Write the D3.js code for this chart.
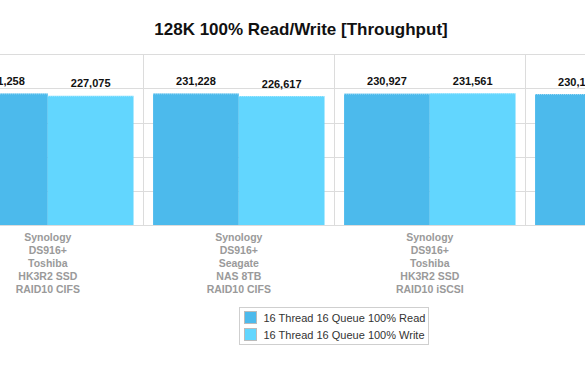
<!DOCTYPE html>
<html>
<head>
<meta charset="utf-8">
<script src="https://cdn.jsdelivr.net/npm/d3@7"></script>
<style>
  html, body { margin: 0; padding: 0; background: #fff; overflow: hidden; }
  svg { display: block; font-family: "Liberation Sans", Arial, Helvetica, sans-serif; }
</style>
</head>
<body>
<svg id="chart"></svg>
<script>
// dados do gráfico
const groups = [
  "Synology\nDS916+\nToshiba\nHK3R2 SSD\nRAID10 CIFS",
  "Synology\nDS916+\nSeagate\nNAS 8TB\nRAID10 CIFS",
  "Synology\nDS916+\nToshiba\nHK3R2 SSD\nRAID10 iSCSI",
  "Synology\nDS916+\nSeagate\nNAS 8TB\nRAID10 iSCSI"
];
const seriesNames = ["16 Thread 16 Queue 100% Read", "16 Thread 16 Queue 100% Write"];
const readValues = [231258, 231228, 230927, 230150];
const writeValues = [227075, 226617, 231561, 228400];
const yTicks = [0, 60000, 120000, 180000, 240000, 300000];
const title = "128K 100% Read/Write [Throughput]";

const width = 585, height = 378;
const colors = ["#4cbaec", "#62d6fe"];

const svg = d3.select("#chart")
  .attr("width", width)
  .attr("height", height);

// a área de plotagem continua além das bordas (gráfico recortado)
const groupStep = 191;
const plotLeft = -47.7;
const plotTop = 54.3, plotBottom = 225;

const x0 = d3.scaleBand()
  .domain(groups)
  .range([plotLeft, plotLeft + groupStep * groups.length])
  .paddingInner(0)
  .paddingOuter(0);

const x1 = d3.scaleBand()
  .domain(seriesNames)
  .range([0, x0.bandwidth()])
  .paddingInner(0)
  .paddingOuter(0.114);

const y = d3.scaleLinear()
  .domain([0, 300000])
  .range([plotBottom, plotTop]);

// título
svg.append("text")
  .attr("x", 301)
  .attr("y", 35)
  .attr("text-anchor", "middle")
  .style("font-size", "17px")
  .style("font-weight", "bold")
  .attr("fill", "#111")
  .text(title);

// linhas de grade horizontais
svg.append("g")
  .selectAll("line")
  .data(yTicks)
  .enter()
  .append("line")
  .attr("x1", 0)
  .attr("x2", width)
  .attr("y1", d => Math.round(y(d)) + 0.5)
  .attr("y2", d => Math.round(y(d)) + 0.5)
  .attr("stroke", "#dcdcdc")
  .attr("stroke-width", 1);

// separadores verticais entre grupos
svg.append("g")
  .selectAll("line")
  .data(groups.slice(1))
  .enter()
  .append("line")
  .attr("x1", d => Math.round(x0(d)) + 0.5)
  .attr("x2", d => Math.round(x0(d)) + 0.5)
  .attr("y1", y(300000))
  .attr("y2", y(0))
  .attr("stroke", "#dcdcdc")
  .attr("stroke-width", 1);

const rows = groups.map((g, i) => ({
  group: g,
  values: [
    { key: seriesNames[0], value: readValues[i] },
    { key: seriesNames[1], value: writeValues[i] }
  ]
}));

const groupSel = svg.append("g")
  .selectAll("g")
  .data(rows)
  .enter()
  .append("g")
  .attr("transform", d => `translate(${x0(d.group)},0)`);

// barras
groupSel.selectAll("rect")
  .data(d => d.values)
  .enter()
  .append("rect")
  .attr("x", d => x1(d.key))
  .attr("y", d => y(d.value))
  .attr("width", x1.bandwidth())
  .attr("height", d => y(0) - y(d.value))
  .attr("fill", (d, i) => colors[i]);

// borda superior pontilhada das barras
groupSel.selectAll("line.top")
  .data(d => d.values)
  .enter()
  .append("line")
  .attr("class", "top")
  .attr("x1", d => x1(d.key))
  .attr("x2", d => x1(d.key) + x1.bandwidth())
  .attr("y1", d => y(d.value) + 0.5)
  .attr("y2", d => y(d.value) + 0.5)
  .attr("stroke", "#ffffff")
  .attr("stroke-opacity", 0.45)
  .attr("stroke-dasharray", "1,1");

// valores acima das barras
groupSel.selectAll("text.value")
  .data(d => d.values)
  .enter()
  .append("text")
  .attr("class", "value")
  .attr("x", d => x1(d.key) + x1.bandwidth() / 2)
  .attr("y", d => y(d.value) - 8.5)
  .attr("text-anchor", "middle")
  .style("font-size", "11px")
  .style("font-weight", "bold")
  .attr("fill", "#111")
  .text(d => d3.format(",")(d.value));

// rótulos das categorias (várias linhas)
groupSel.append("text")
  .attr("text-anchor", "middle")
  .style("font-size", "10.5px")
  .style("font-weight", "bold")
  .attr("fill", "#9a9a9a")
  .selectAll("tspan")
  .data(d => d.group.split("\n"))
  .enter()
  .append("tspan")
  .attr("x", x0.bandwidth() / 2)
  .attr("y", (d, i) => 241 + i * 13)
  .text(d => d);

// legenda
const legend = svg.append("g")
  .attr("transform", "translate(239.5,307.5)");

legend.append("rect")
  .attr("width", 189)
  .attr("height", 37)
  .attr("fill", "#fff")
  .attr("stroke", "#cfcfcf");

const item = legend.selectAll("g")
  .data(seriesNames)
  .enter()
  .append("g")
  .attr("transform", (d, i) => `translate(5,${4 + i * 17})`);

item.append("rect")
  .attr("width", 12)
  .attr("height", 12)
  .attr("fill", (d, i) => colors[i])
  .attr("stroke", "#bbb")
  .attr("stroke-width", 1);

item.append("text")
  .attr("x", 19)
  .attr("y", 10)
  .style("font-size", "11px")
  .attr("fill", "#333")
  .text(d => d);
</script>
</body>
</html>
